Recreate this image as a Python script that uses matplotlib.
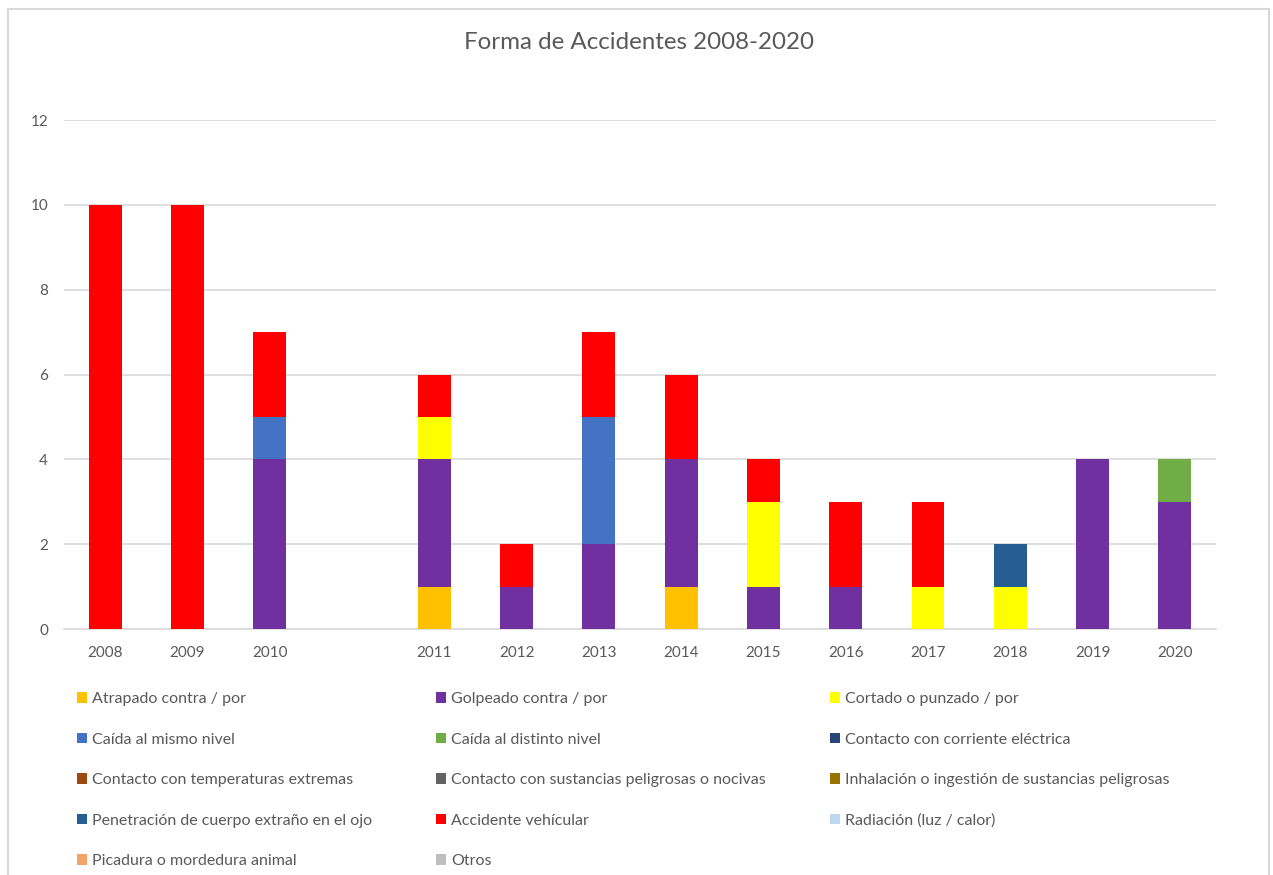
import matplotlib
matplotlib.use("Agg")
import matplotlib.pyplot as plt
import numpy as np
from matplotlib.patches import Patch, Rectangle

plt.rcParams["font.family"] = ["Lato", "DejaVu Sans"]

YEARS = ["2008", "2009", "2010", "", "2011", "2012", "2013", "2014",
         "2015", "2016", "2017", "2018", "2019", "2020"]

SERIES_NAMES = [
    "Atrapado contra / por",
    "Golpeado contra / por",
    "Cortado o punzado / por",
    "Caída al mismo nivel",
    "Caída al distinto nivel",
    "Contacto con corriente eléctrica",
    "Contacto con temperaturas extremas",
    "Contacto con sustancias peligrosas o nocivas",
    "Inhalación o ingestión de sustancias peligrosas",
    "Penetración de cuerpo extraño en el ojo",
    "Accidente vehícular",
    "Radiación (luz / calor)",
    "Picadura o mordedura animal",
    "Otros",
]

atrapado = [0, 0, 0, 0, 1, 0, 0, 1, 0, 0, 0, 0, 0, 0]
golpeado = [0, 0, 4, 0, 3, 1, 2, 3, 1, 1, 0, 0, 4, 3]
cortado = [0, 0, 0, 0, 1, 0, 0, 0, 2, 0, 1, 1, 0, 0]
caida_mismo = [0, 0, 1, 0, 0, 0, 3, 0, 0, 0, 0, 0, 0, 0]
caida_distinto = [0, 0, 0, 0, 0, 0, 0, 0, 0, 0, 0, 0, 0, 1]
corriente = [0] * 14
temperaturas = [0] * 14
sustancias = [0] * 14
inhalacion = [0] * 14
penetracion = [0, 0, 0, 0, 0, 0, 0, 0, 0, 0, 0, 1, 0, 0]
vehicular = [10, 10, 2, 0, 1, 1, 2, 2, 1, 2, 2, 0, 0, 0]
radiacion = [0] * 14
picadura = [0] * 14
otros = [0] * 14

COLORS = ["#FFC000", "#7030A0", "#FFFF00", "#4472C4", "#70AD47", "#264478",
          "#9E480E", "#636363", "#997300", "#255E91", "#FF0000", "#BDD7EE",
          "#F4A46A", "#BFBFBF"]

values = [atrapado, golpeado, cortado, caida_mismo, caida_distinto, corriente,
          temperaturas, sustancias, inhalacion, penetracion, vehicular,
          radiacion, picadura, otros]

TEXT = "#595959"
GRID = "#D9D9D9"

fig = plt.figure(figsize=(12.73, 8.75), dpi=100)
ax = fig.add_axes([0.0503, 0.2811, 0.9049, 0.5817])

x = np.arange(len(YEARS))
bottom = np.zeros(len(YEARS))
for name, vals, col in zip(SERIES_NAMES, values, COLORS):
    vals = np.array(vals, dtype=float)
    ax.bar(x, vals, bottom=bottom, width=0.4, color=col, edgecolor="none",
           zorder=3)
    bottom += vals

ax.set_xlim(-0.5, len(YEARS) - 0.5)
ax.set_ylim(0, 12)
ax.set_yticks(range(0, 13, 2))
ax.set_xticks(x)
ax.set_xticklabels(YEARS)
ax.tick_params(axis="both", length=0, labelsize=11, colors=TEXT)
ax.tick_params(axis="y", pad=11.5)
ax.tick_params(axis="x", pad=12)
ax.grid(axis="y", color=GRID, linewidth=1.2, zorder=0)
for s in ["top", "right", "left"]:
    ax.spines[s].set_visible(False)
ax.spines["bottom"].set_color(GRID)
ax.spines["bottom"].set_linewidth(1.2)

fig.text(0.502, 0.951, "Forma de Accidentes 2008-2020", ha="center",
         va="center", fontsize=17.4, color=TEXT)

# legend laid out row by row, three entries per row
handles = [Patch(facecolor=c, edgecolor="none") for c in COLORS]
order = [0, 3, 6, 9, 12, 1, 4, 7, 10, 13, 2, 5, 8, 11]
ax.legend([handles[i] for i in order], [SERIES_NAMES[i] for i in order],
          ncol=3, loc="upper left", bbox_to_anchor=(0.0605, 0.209),
          bbox_transform=fig.transFigure, frameon=False, fontsize=11.5,
          labelcolor=TEXT, handlelength=0.6, handleheight=0.6,
          handletextpad=0.35, labelspacing=1.66, columnspacing=4.0,
          borderaxespad=0, borderpad=0)

fig.add_artist(Rectangle((8 / 1273, -0.01), 1261 / 1273, 1 - 9 / 875 + 0.01,
                         transform=fig.transFigure, fill=False,
                         edgecolor=GRID, linewidth=1.5))

fig.savefig("out.png", dpi=100, facecolor="white")
